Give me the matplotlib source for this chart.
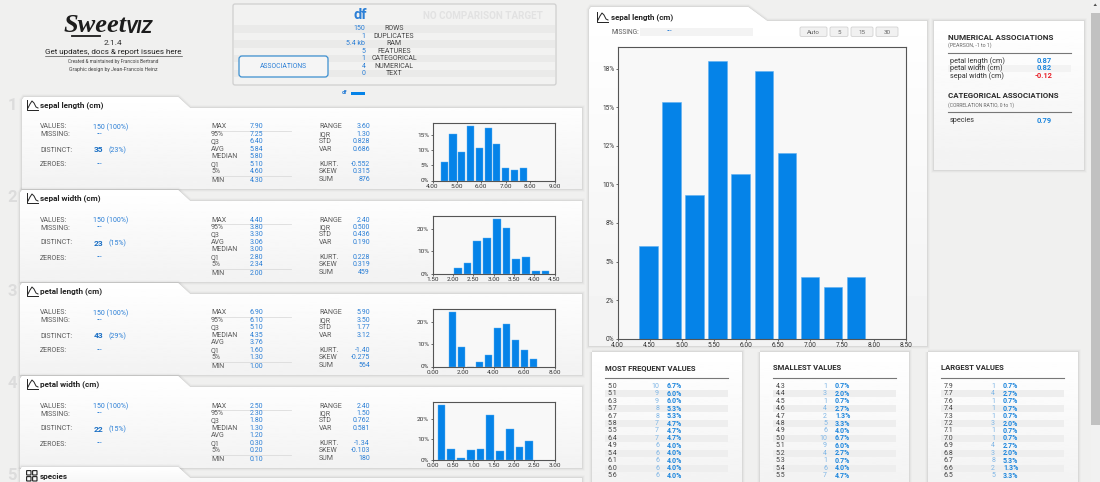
# -*- coding: utf-8 -*-
"""Sweetviz report screenshot, rebuilt in matplotlib."""
import numpy as np
import matplotlib
matplotlib.use("Agg")
import matplotlib.pyplot as plt
from matplotlib.patches import Polygon, Rectangle, FancyBboxPatch

W, H = 1100, 482
BG = "#f0f0ef"
BLUE = "#0583e8"
VAL = "#2b7fd6"
LBL = "#5a5a5a"

plt.rcParams.update({
    "font.family": ["Roboto", "DejaVu Sans"],
    "axes.unicode_minus": False,
})

# ===== data =====
FEATURES = ["sepal length (cm)", "sepal width (cm)", "petal length (cm)", "petal width (cm)"]
DISTINCT = [("35", "(23%)"), ("23", "(15%)"), ("43", "(29%)"), ("22", "(15%)")]

STAT_NAMES = [
    ["MAX", "95%", "Q3", "AVG", "MEDIAN", "Q1", "5%", "MIN"],
    ["MAX", "95%", "Q3", "AVG", "MEDIAN", "Q1", "5%", "MIN"],
    ["MAX", "95%", "Q3", "MEDIAN", "AVG", "Q1", "5%", "MIN"],
    ["MAX", "95%", "Q3", "MEDIAN", "AVG", "Q1", "5%", "MIN"],
]
STAT_VALUES = [
    ["7.90", "7.25", "6.40", "5.84", "5.80", "5.10", "4.60", "4.30"],
    ["4.40", "3.80", "3.30", "3.06", "3.00", "2.80", "2.34", "2.00"],
    ["6.90", "6.10", "5.10", "4.35", "3.76", "1.60", "1.30", "1.00"],
    ["2.50", "2.30", "1.80", "1.30", "1.20", "0.30", "0.20", "0.10"],
]
RANGE_NAMES = ["RANGE", "IQR", "STD", "VAR", "KURT.", "SKEW", "SUM"]
RANGE_VALUES = [
    ["3.60", "1.30", "0.828", "0.686", "-0.552", "0.315", "876"],
    ["2.40", "0.500", "0.436", "0.190", "0.228", "0.319", "459"],
    ["5.90", "3.50", "1.77", "3.12", "-1.40", "-0.275", "564"],
    ["2.40", "1.50", "0.762", "0.581", "-1.34", "-0.103", "180"],
]

SL_CENTERS = [4.48, 4.84, 5.20, 5.56, 5.92, 6.28, 6.64, 7.00, 7.36, 7.72]
SW_CENTERS = [2.12, 2.36, 2.60, 2.84, 3.08, 3.32, 3.56, 3.80, 4.04, 4.28]
PL_CENTERS = [1.295, 1.885, 2.475, 3.065, 3.655, 4.245, 4.835, 5.425, 6.015, 6.605]
PW_CENTERS = [0.22, 0.46, 0.70, 0.94, 1.18, 1.42, 1.66, 1.90, 2.14, 2.38]
SL_PCT = [6.0, 15.33, 9.33, 18.0, 10.67, 17.33, 12.0, 4.0, 3.33, 4.0]
SW_PCT = [2.67, 4.67, 14.67, 16.0, 24.67, 20.67, 6.67, 7.33, 1.33, 1.33]
PL_PCT = [24.67, 8.67, 0.0, 2.0, 5.33, 17.33, 19.33, 12.0, 7.33, 3.33]
PW_PCT = [27.33, 5.33, 0.67, 4.67, 5.33, 22.0, 4.0, 15.33, 6.0, 9.33]

HISTS = [
    (SL_CENTERS, SL_PCT, 0.36, (4, 9), [4, 5, 6, 7, 8, 9], [0, 5, 10, 15]),
    (SW_CENTERS, SW_PCT, 0.24, (1.5, 4.5), [1.5, 2, 2.5, 3, 3.5, 4, 4.5], [0, 10, 20]),
    (PL_CENTERS, PL_PCT, 0.59, (0, 8), [0, 2, 4, 6, 8], [0, 10, 20]),
    (PW_CENTERS, PW_PCT, 0.24, (0, 3), [0, 0.5, 1, 1.5, 2, 2.5, 3], [0, 10, 20]),
]
BIG_XTICKS = [4, 4.5, 5, 5.5, 6, 6.5, 7, 7.5, 8, 8.5]
BIG_YTICKS = [0, 2.5, 5, 7.5, 10, 12.5, 15, 17.5]
BIG_YLABELS = ["0%", "2%", "5%", "8%", "10%", "12%", "15%", "18%"]

HEADER_NAMES = ["ROWS", "DUPLICATES", "RAM", "FEATURES", "CATEGORICAL", "NUMERICAL", "TEXT"]
HEADER_VALUES = ["150", "1", "5.4 kb", "5", "1", "4", "0"]

NUM_ASSOC = [("petal length (cm)", "0.87"), ("petal width (cm)", "0.82"), ("sepal width (cm)", "-0.12")]

FREQ_V = ["5.0", "5.1", "6.3", "5.7", "6.7", "5.8", "5.5", "6.4", "4.9", "5.4", "6.1", "6.0", "5.6"]
FREQ_N = [10, 9, 9, 8, 8, 7, 7, 7, 6, 6, 6, 6, 6]
FREQ_P = ["6.7%", "6.0%", "6.0%", "5.3%", "5.3%", "4.7%", "4.7%", "4.7%", "4.0%", "4.0%", "4.0%", "4.0%", "4.0%"]
SMALL_V = ["4.3", "4.4", "4.5", "4.6", "4.7", "4.8", "4.9", "5.0", "5.1", "5.2", "5.3", "5.4", "5.5"]
SMALL_N = [1, 3, 1, 4, 2, 5, 6, 10, 9, 4, 1, 6, 7]
SMALL_P = ["0.7%", "2.0%", "0.7%", "2.7%", "1.3%", "3.3%", "4.0%", "6.7%", "6.0%", "2.7%", "0.7%", "4.0%", "4.7%"]
LARGE_V = ["7.9", "7.7", "7.6", "7.4", "7.3", "7.2", "7.1", "7.0", "6.9", "6.8", "6.7", "6.6", "6.5"]
LARGE_N = [1, 4, 1, 1, 1, 3, 1, 1, 4, 3, 8, 2, 5]
LARGE_P = ["0.7%", "2.7%", "0.7%", "0.7%", "0.7%", "2.0%", "0.7%", "0.7%", "2.7%", "2.0%", "5.3%", "1.3%", "3.3%"]

fig = plt.figure(figsize=(W / 100, H / 100), dpi=100, facecolor=BG)
bg = fig.add_axes([0, 0, 1, 1], zorder=0)
bg.set_xlim(0, W)
bg.set_ylim(H, 0)
bg.axis("off")

GRAD = np.linspace(1.0, 0.95, 64).reshape(-1, 1)


def px_axes(l, t, r, b):
    return fig.add_axes([l / W, 1 - b / H, (r - l) / W, (b - t) / H], zorder=5)


def txt(x, y, s, size=5, color=LBL, ha="left", weight="normal", z=10, **kw):
    bg.text(x, y, s, fontsize=size, color=color, ha=ha, va="center", fontweight=weight, zorder=z, **kw)


def card(points, z, top, bottom):
    """옅은 그림자 + 살짝 어두워지는 그라데이션 카드."""
    for off, a in [(4.0, 0.018), (2.6, 0.03), (1.2, 0.05)]:
        bg.add_patch(Polygon(points, closed=True, fc="none", ec="black", lw=off, alpha=a, zorder=z))
    poly = Polygon(points, closed=True, fc="white", ec="none", zorder=z + 0.1)
    bg.add_patch(poly)
    im = bg.imshow(GRAD, extent=(0, W, bottom, top), cmap="gray", vmin=0, vmax=1,
                   aspect="auto", zorder=z + 0.2, interpolation="bilinear")
    im.set_clip_path(poly)
    bg.set_xlim(0, W)
    bg.set_ylim(H, 0)


def curve_icon(x, y, z=10):
    bg.plot([x, x, x + 11], [y - 5, y + 5, y + 5], color="#222222", lw=0.7, zorder=z)
    bg.plot([x + 1, x + 3, x + 5, x + 7, x + 9, x + 11], [y + 3, y - 1, y - 4, y - 2, y + 2, y + 3],
            color="#222222", lw=0.7, zorder=z)


def grid_icon(x, y, z=10):
    for dx in (0, 6):
        for dy in (-5, 1):
            bg.add_patch(FancyBboxPatch((x + dx, y + dy), 3.6, 3.6, boxstyle="round,pad=0.4",
                                        fc="none", ec="#222222", lw=0.8, zorder=z))


def style_hist(ax, xticks, yticks, ylabels, fs, ticklen):
    ax.set_facecolor("#f8f8f8")
    for sp in ax.spines.values():
        sp.set_color("#555555")
        sp.set_linewidth(0.8)
    ax.set_xticks(xticks)
    ax.set_xticklabels([f"{v:.2f}" for v in xticks])
    ax.set_yticks(yticks)
    ax.set_yticklabels(ylabels)
    ax.tick_params(labelsize=fs, length=ticklen, width=0.5, pad=1, colors="#333333")


# ===== logo + summary box =====
txt(127, 25, "Sweet", size=19, color="#1c1c1c", ha="right", weight="bold", style="italic",
    family="Liberation Serif")
txt(126, 28, "VIZ", size=13, color="#1c1c1c", weight="bold", style="italic")
bg.plot([72, 100], [36, 36], color="#1c1c1c", lw=1.3, zorder=10)
txt(113, 43, "2.1.4", size=6, color="#333333", ha="center")
txt(113, 52, "Get updates, docs & report issues here", size=5.8, color="#222222", ha="center")
bg.plot([45, 182], [56, 56], color="#222222", lw=0.4, zorder=10)
txt(113, 61, "Created & maintained by Francois Bertrand", size=3.4, color="#444444", ha="center")
txt(113, 69, "Graphic design by Jean-Francois Heinz", size=3.7, color="#444444", ha="center")

bg.add_patch(FancyBboxPatch((233, 4), 323, 81, boxstyle="round,pad=0,rounding_size=2",
                            fc="#f2f2f1", ec="#cfcfcf", lw=0.9, zorder=2))
for i, (n, v) in enumerate(zip(HEADER_NAMES, HEADER_VALUES)):
    y = 29 + i * 7.42
    if i % 2 == 0:
        bg.add_patch(Rectangle((234, y - 3.7), 321, 7.4, fc="#eaeae9", ec="none", zorder=2.5))
    txt(365.5, y, v, size=5, color=VAL, ha="right")
    txt(394, y, n, size=5, color="#444444", ha="center")
txt(360, 15, "df", size=10.5, color=VAL, ha="center", weight="bold")
txt(483, 16, "NO COMPARISON TARGET", size=7.1, color="#e2e2e2", ha="center", weight="bold")
bg.add_patch(FancyBboxPatch((239, 56), 89, 21, boxstyle="round,pad=0,rounding_size=3",
                            fc="#f5f5f5", ec="#3c8fd0", lw=0.9, zorder=3))
txt(283.5, 66.5, "ASSOCIATIONS", size=4.9, color=VAL, ha="center")
txt(344, 92, "df", size=4.2, color=VAL, ha="center", weight="bold")
bg.add_patch(Rectangle((351, 91.5), 14, 3, fc=BLUE, ec="none", zorder=3))

# ===== feature cards on the left =====
HEAD_Y = [105, 198, 291, 384]
TAB_TOP = [97, 190, 283, 376]
for k, hy in enumerate(HEAD_Y):
    tt = TAB_TOP[k]
    left = 22 if k == 0 else 20
    card([(left, tt + 3), (left + 2, tt), (178, tt), (190, tt + 11), (582, tt + 11), (582, hy + 84), (left, hy + 84)],
         z=2 + k * 0.5, top=tt, bottom=hy + 84)
    txt(12, hy, str(k + 1), size=12, color="#dcdcdc", ha="center", weight="bold")
    curve_icon(27, hy)
    txt(40, hy, FEATURES[k], size=5.9, color="#222222", weight="bold")
    txt(40, hy + 22, "VALUES:")
    txt(93, hy + 22, "150 (100%)", color=VAL)
    txt(40, hy + 30, "MISSING:")
    txt(100, hy + 30, "---", color=VAL, ha="center")
    txt(40, hy + 45, "DISTINCT:")
    txt(99, hy + 45, DISTINCT[k][0], size=6, color="#1a6fc4", ha="center", weight="bold")
    txt(117, hy + 45, DISTINCT[k][1], color=VAL, ha="center")
    txt(40, hy + 60, "ZEROES:")
    txt(100, hy + 60, "---", color=VAL, ha="center")
    for i, (n, v) in enumerate(zip(STAT_NAMES[k], STAT_VALUES[k])):
        y = hy + 22 + i * 7.45 + (0.9 if i == 7 else 0)
        txt(211, y, n)
        txt(263, y, v, color=VAL, ha="right")
    bg.plot([211, 291], [hy + 25.8, hy + 25.8], color="#dcdcdc", lw=0.6, zorder=9)
    bg.plot([211, 291], [hy + 71.2, hy + 71.2], color="#dcdcdc", lw=0.6, zorder=9)
    rows = [0, 1, 2, 3, 5, 6, 7]
    for r, n, v in zip(rows, RANGE_NAMES, RANGE_VALUES[k]):
        y = hy + 22 + r * 7.45
        txt(319, y, n)
        txt(370, y, v, color=VAL, ha="right")

    centers, pct, bw, xlim, xt, yt = HISTS[k]
    ax = px_axes(432.5, hy + 18, 554.5, hy + 75.5)
    ax.bar(centers, pct, width=bw * 0.8, color=BLUE, edgecolor="#5fb0f2", linewidth=0.3)
    ax.set_xlim(*xlim)
    ax.set_ylim(0, max(pct) * 1.05)
    style_hist(ax, xt, yt, [f"{v}%" for v in yt], 4.6, 1.5)

# species card, only its top is on screen
card([(20, 470), (22, 467), (178, 467), (190, 478), (582, 478), (582, 490), (20, 490)], z=4.5, top=467, bottom=490)
txt(12, 476, "5", size=12, color="#dcdcdc", ha="center", weight="bold")
grid_icon(27, 476)
txt(40, 476, "species", size=5.9, color="#222222", weight="bold")

# ===== detail panel on the right =====
card([(589, 10), (591, 7), (748, 7), (767, 21), (927, 21), (927, 346), (589, 346)], z=5, top=7, bottom=346)
curve_icon(597, 17)
txt(611, 17, FEATURES[0], size=5.8, color="#222222", weight="bold")
txt(612, 32, "MISSING:", size=4.8)
bg.add_patch(Rectangle((640, 28), 113, 8, fc="#f3f3f3", ec="none", zorder=9))
txt(670, 32, "---", color=VAL, ha="center")
for label, l, r in [("Auto", 800, 827), ("5", 830, 848), ("15", 851, 873), ("30", 876, 898)]:
    bg.add_patch(FancyBboxPatch((l, 27), r - l, 9.5, boxstyle="round,pad=0,rounding_size=1.5",
                                fc="#f1f1f1", ec="#d2d2d2", lw=0.6, zorder=9))
    txt((l + r) / 2, 32, label, size=4.5, color="#666666", ha="center")

big = px_axes(617.7, 47, 906, 338.7)
big.bar(SL_CENTERS, SL_PCT, width=0.36 * 0.8, color=BLUE, edgecolor="#5fb0f2", linewidth=0.4)
big.set_xlim(4, 8.5)
big.set_ylim(0, max(SL_PCT) * 1.05)
style_hist(big, BIG_XTICKS, BIG_YTICKS, BIG_YLABELS, 4.7, 1.5)

# associations
card([(934, 21), (1084, 21), (1084, 170), (934, 170)], z=5, top=21, bottom=170)
txt(948, 37, "NUMERICAL ASSOCIATIONS", size=5.9, color="#2c2c2c", weight="bold")
txt(948, 45, "(PEARSON, -1 to 1)", size=3.8, color="#666666")
bg.plot([948, 1071], [52.5, 52.5], color="#777777", lw=0.8, zorder=10)
for i, (n, v) in enumerate(NUM_ASSOC):
    y = 61 + i * 7.5
    if i == 1:
        bg.add_patch(Rectangle((948, y - 3.7), 123, 7.4, fc="#f3f3f3", ec="none", zorder=9))
    txt(950, y, n, size=5.2, color="#333333")
    txt(1044, y, v, size=5.4, color="#e8222a" if v.startswith("-") else "#1d86dd", ha="center", weight="bold")
txt(948, 96, "CATEGORICAL ASSOCIATIONS", size=5.7, color="#2c2c2c", weight="bold")
txt(948, 105, "(CORRELATION RATIO, 0 to 1)", size=3.6, color="#666666")
bg.plot([948, 1071], [112, 112], color="#777777", lw=0.8, zorder=10)
txt(950, 121, "species", size=5.2, color="#333333")
txt(1044, 121, "0.79", size=5.4, color="#1d86dd", ha="center", weight="bold")

# value tables
TABLES = [
    (592, 742, 605, "MOST FREQUENT VALUES", FREQ_V, FREQ_N, FREQ_P),
    (760, 909, 773, "SMALLEST VALUES", SMALL_V, SMALL_N, SMALL_P),
    (928, 1078, 941, "LARGEST VALUES", LARGE_V, LARGE_N, LARGE_P),
]
for l, r, x0, title, vals, counts, pcts in TABLES:
    card([(l, 352), (r, 352), (r, 490), (l, 490)], z=6, top=352, bottom=490)
    txt(x0, 368, title, size=5.5, color="#2c2c2c", weight="bold")
    bg.plot([x0, x0 + 123], [378, 378], color="#777777", lw=0.8, zorder=10)
    for i, (v, n, p) in enumerate(zip(vals, counts, pcts)):
        y = 386.3 + i * 7.45
        if i % 2 == 1:
            bg.add_patch(Rectangle((x0, y - 3.7), 123, 7.4, fc="#eeeeee", ec="none", zorder=9))
        txt(x0 + 3, y, v, size=5, color="#444444")
        txt(x0 + 54, y, str(n), size=5, color="#7fb6e6", ha="right")
        txt(x0 + 62, y, p, size=5, color="#1d86dd", weight="bold")

# scrollbar
bg.add_patch(Rectangle((1091, 0), 9, H, fc="#f1f1f1", ec="none", zorder=12))
bg.add_patch(Rectangle((1091, 13), 9, 412, fc="#c1c1c1", ec="none", zorder=13))
bg.add_patch(Polygon([(1093.5, 6), (1097, 6), (1095.2, 3.5)], closed=True, fc="#505050", ec="none", zorder=13))

fig.savefig("out.png", dpi=100, facecolor=BG)
